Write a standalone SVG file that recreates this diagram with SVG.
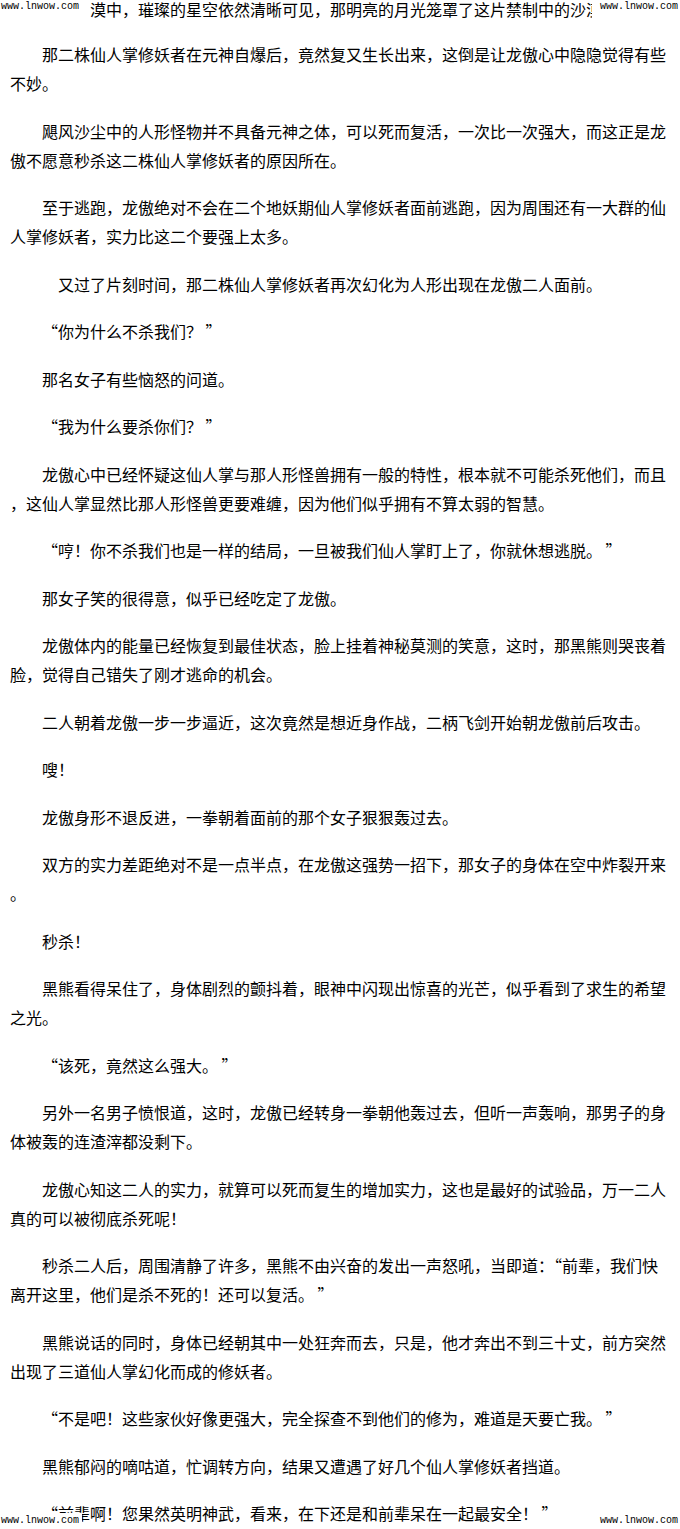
<svg xmlns="http://www.w3.org/2000/svg" width="680" height="1529" viewBox="0 0 680 1529">
<style>
.t{font-family:"Noto Sans CJK SC","Noto Sans CJK TC",sans-serif;font-size:16px;fill:#000}
.w{font-family:"Liberation Mono","DejaVu Sans Mono",monospace;font-size:10px;fill:#000}
.m{fill:#fff}
</style>
<rect x="0" y="0" width="680" height="1529" fill="#fff"/>
<g id="page-text">
<text class="t" x="90" y="15.5">漠中，璀璨的星空依然清晰可见，那明亮的月光笼罩了这片禁制中的沙漠</text>
<text class="t" x="42" y="61">那二株仙人掌修妖者在元神自爆后，竟然复又生长出来，这倒是让龙傲心中隐隐觉得有些</text>
<text class="t" x="10" y="90">不妙。</text>
<text class="t" x="42" y="137.5">飓风沙尘中的人形怪物并不具备元神之体，可以死而复活，一次比一次强大，而这正是龙</text>
<text class="t" x="10" y="166.5">傲不愿意秒杀这二株仙人掌修妖者的原因所在。</text>
<text class="t" x="42" y="214">至于逃跑，龙傲绝对不会在二个地妖期仙人掌修妖者面前逃跑，因为周围还有一大群的仙</text>
<text class="t" x="10" y="243">人掌修妖者，实力比这二个要强上太多。</text>
<text class="t" x="58" y="290.5">又过了片刻时间，那二株仙人掌修妖者再次幻化为人形出现在龙傲二人面前。</text>
<text class="t" x="42" y="338">“你为什么不杀我们？ ”</text>
<text class="t" x="42" y="385.5">那名女子有些恼怒的问道。</text>
<text class="t" x="42" y="433">“我为什么要杀你们？ ”</text>
<text class="t" x="42" y="480.5">龙傲心中已经怀疑这仙人掌与那人形怪兽拥有一般的特性，根本就不可能杀死他们，而且</text>
<text class="t" x="10" y="509.5">，这仙人掌显然比那人形怪兽更要难缠，因为他们似乎拥有不算太弱的智慧。</text>
<text class="t" x="42" y="557">“哼！你不杀我们也是一样的结局，一旦被我们仙人掌盯上了，你就休想逃脱。 ”</text>
<text class="t" x="42" y="604.5">那女子笑的很得意，似乎已经吃定了龙傲。</text>
<text class="t" x="42" y="652">龙傲体内的能量已经恢复到最佳状态，脸上挂着神秘莫测的笑意，这时，那黑熊则哭丧着</text>
<text class="t" x="10" y="681">脸，觉得自己错失了刚才逃命的机会。</text>
<text class="t" x="42" y="728.5">二人朝着龙傲一步一步逼近，这次竟然是想近身作战，二柄飞剑开始朝龙傲前后攻击。</text>
<text class="t" x="42" y="776">嗖！</text>
<text class="t" x="42" y="823.5">龙傲身形不退反进，一拳朝着面前的那个女子狠狠轰过去。</text>
<text class="t" x="42" y="871">双方的实力差距绝对不是一点半点，在龙傲这强势一招下，那女子的身体在空中炸裂开来</text>
<text class="t" x="10" y="900">。</text>
<text class="t" x="42" y="947.5">秒杀！</text>
<text class="t" x="42" y="995">黑熊看得呆住了，身体剧烈的颤抖着，眼神中闪现出惊喜的光芒，似乎看到了求生的希望</text>
<text class="t" x="10" y="1024">之光。</text>
<text class="t" x="42" y="1071.5">“该死，竟然这么强大。 ”</text>
<text class="t" x="42" y="1119">另外一名男子愤恨道，这时，龙傲已经转身一拳朝他轰过去，但听一声轰响，那男子的身</text>
<text class="t" x="10" y="1148">体被轰的连渣滓都没剩下。</text>
<text class="t" x="42" y="1195.5">龙傲心知这二人的实力，就算可以死而复生的增加实力，这也是最好的试验品，万一二人</text>
<text class="t" x="10" y="1224.5">真的可以被彻底杀死呢！</text>
<text class="t" x="42" y="1272">秒杀二人后，周围清静了许多，黑熊不由兴奋的发出一声怒吼，当即道：“前辈，我们快</text>
<text class="t" x="10" y="1301">离开这里，他们是杀不死的！还可以复活。 ”</text>
<text class="t" x="42" y="1348.5">黑熊说话的同时，身体已经朝其中一处狂奔而去，只是，他才奔出不到三十丈，前方突然</text>
<text class="t" x="10" y="1377.5">出现了三道仙人掌幻化而成的修妖者。</text>
<text class="t" x="42" y="1425">“不是吧！这些家伙好像更强大，完全探查不到他们的修为，难道是天要亡我。 ”</text>
<text class="t" x="42" y="1472.5">黑熊郁闷的嘀咕道，忙调转方向，结果又遭遇了好几个仙人掌修妖者挡道。</text>
<text class="t" x="42" y="1520">“前辈啊！您果然英明神武，看来，在下还是和前辈呆在一起最安全！ ”</text>
</g>
<g id="watermarks">
<rect class="m" x="592" y="0" width="88" height="20"/>
<rect class="m" x="0" y="1513" width="82" height="16"/>
<text class="w" x="1" y="9">www.lnwow.com</text>
<text class="w" x="600" y="9">www.lnwow.com</text>
<text class="w" x="1" y="1523">www.lnwow.com</text>
<text class="w" x="600" y="1523">www.lnwow.com</text>
</g>
</svg>
